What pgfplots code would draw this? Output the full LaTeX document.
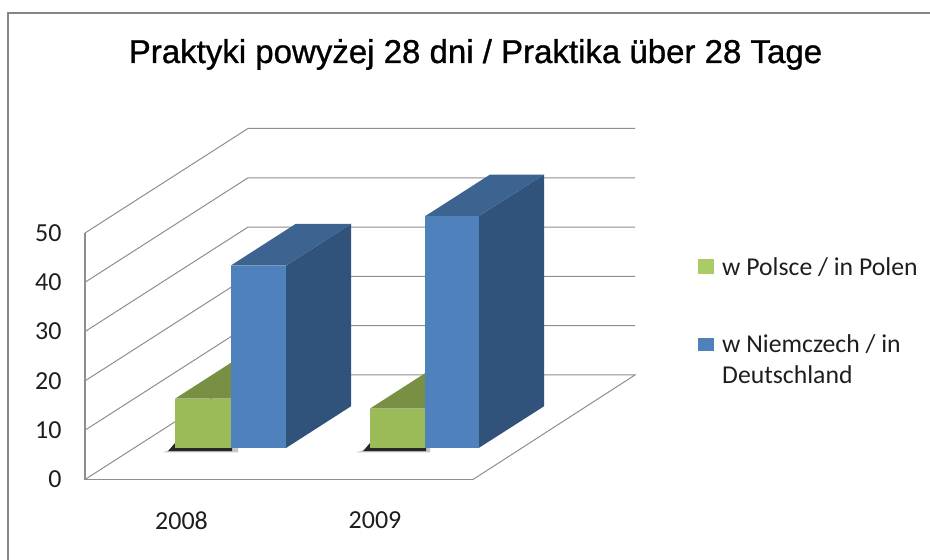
\documentclass[border=0pt]{standalone}
\usepackage{fontspec}
\setmainfont{Carlito}
\newfontfamily\titlefont[FakeBold=0.9]{Liberation Sans}
\usepackage{pgfplots}
\pgfplotsset{compat=1.18}
\definecolor{gridc}{HTML}{8E8E8E}
\definecolor{framec}{HTML}{868686}
\definecolor{txt}{HTML}{1E1E1E}
\definecolor{gfront}{HTML}{9BBB59}
\definecolor{gtop}{HTML}{779043}
\definecolor{bfront}{HTML}{4F81BD}
\definecolor{btop}{HTML}{3D6390}
\definecolor{bside}{HTML}{31527A}
\definecolor{lgreen}{HTML}{A9CC66}
\begin{document}
\begin{tikzpicture}[x=1pt,y=1pt]
\begin{axis}[
  scale only axis, width=388pt, height=246.5pt,
  anchor=origin, at={(0pt,0pt)},
  xmin=85, xmax=473, ymin=0, ymax=50,
  clip=false,
  axis x line=bottom, axis y line=left,
  axis line style={draw=gridc, line width=1.1pt, -},
  major tick length=0pt,
  xtick={181.5,375}, xticklabels={2008,2009},
  ytick={0,10,20,30,40,50},
  tick align=outside,
  /pgf/number format/assume math mode=true,
  /pgf/number format/set thousands separator={},
  tick label style={font=\fontsize{26}{31}\selectfont, text=txt},
  xticklabel style={yshift=-29pt},
  yticklabel style={xshift=-20pt},
]
% floor and walls: wall depth = 163 px across, 21.2 value units up
\addplot[gridc, line width=1pt] coordinates {(85,0) (248,21.2) (635,21.2) (473,0)};
\addplot[gridc, line width=1pt] coordinates {(85,10) (248,31.2) (635,31.2)};
\addplot[gridc, line width=1pt] coordinates {(85,20) (248,41.2) (635,41.2)};
\addplot[gridc, line width=1pt] coordinates {(85,30) (248,51.2) (635,51.2)};
\addplot[gridc, line width=1pt] coordinates {(85,40) (248,61.2) (635,61.2)};
\addplot[gridc, line width=1pt] coordinates {(85,50) (248,71.2) (635,71.2)};
% 2008, Poland = 10 (base 6.39)
\addplot[fill=gray!45, draw=none] coordinates {(163,5.5) (175,6.4) (238,6.4) (238,5.5)} --cycle;
\addplot[fill=black!85, draw=none] coordinates {(168,5.75) (175,7.4) (175,6.39) (232,6.39) (232,5.75)} --cycle;
\addplot[fill=gtop, draw=none] coordinates {(175,16.39) (240,24.85) (295.7,24.85) (230.7,16.39)} --cycle;
\addplot[fill=gfront, draw=none] coordinates {(175,6.39) (175,16.39) (230.7,16.39) (230.7,6.39)} --cycle;
% 2008, Germany = 37
\addplot[fill=bside, draw=none] coordinates {(286,6.39) (286,43.39) (351,51.85) (351,14.85)} --cycle;
\addplot[fill=btop, draw=none] coordinates {(230.7,43.39) (295.7,51.85) (351,51.85) (286,43.39)} --cycle;
\addplot[fill=bfront, draw=none] coordinates {(230.7,6.39) (230.7,43.39) (286,43.39) (286,6.39)} --cycle;
% 2009, Poland = 8
\addplot[fill=gray!45, draw=none] coordinates {(356,5.5) (370,6.4) (430,6.4) (430,5.5)} --cycle;
\addplot[fill=black!85, draw=none] coordinates {(363,5.75) (370,7.4) (370,6.39) (426,6.39) (426,5.75)} --cycle;
\addplot[fill=gtop, draw=none] coordinates {(370,14.39) (435,22.85) (490,22.85) (425,14.39)} --cycle;
\addplot[fill=gfront, draw=none] coordinates {(370,6.39) (370,14.39) (425,14.39) (425,6.39)} --cycle;
% 2009, Germany = 47
\addplot[fill=bside, draw=none] coordinates {(478.7,6.39) (478.7,53.39) (544,61.85) (544,14.85)} --cycle;
\addplot[fill=btop, draw=none] coordinates {(425,53.39) (490,61.85) (544,61.85) (478.7,53.39)} --cycle;
\addplot[fill=bfront, draw=none] coordinates {(425,6.39) (425,53.39) (478.7,53.39) (478.7,6.39)} --cycle;
% legend keys
\addplot[fill=lgreen, draw=none] coordinates {(698,41.65) (698,44.8) (714,44.8) (714,41.65)} --cycle;
\addplot[fill=bfront, draw=none] coordinates {(698,26.1) (698,28.7) (714,28.7) (714,26.1)} --cycle;
\end{axis}
% chart frame and page size (x = px-85, y = 479.5-py)
\path[use as bounding box] (-85pt,-80.5pt) rectangle (845pt,479.5pt);
\draw[framec, line width=1.3pt] (-77pt,-80.5pt) -- (-77pt,466.5pt) -- (845pt,466.5pt);
\node[anchor=base, inner sep=0pt, font=\titlefont\fontsize{33}{38}\selectfont, text=black] at (390.5pt,416.5pt)
  {Praktyki powyżej 28 dni / Praktika über 28 Tage};
\node[anchor=base west, inner sep=0pt, font=\fontsize{25.7}{30}\selectfont, text=txt] at (637pt,204pt)
  {w Polsce / in Polen};
\node[anchor=base west, inner sep=0pt, font=\fontsize{25.7}{30}\selectfont, text=txt] at (637pt,126.5pt)
  {w Niemczech / in};
\node[anchor=base west, inner sep=0pt, font=\fontsize{25.7}{30}\selectfont, text=txt] at (637pt,95.5pt)
  {Deutschland};
\end{tikzpicture}
\end{document}
